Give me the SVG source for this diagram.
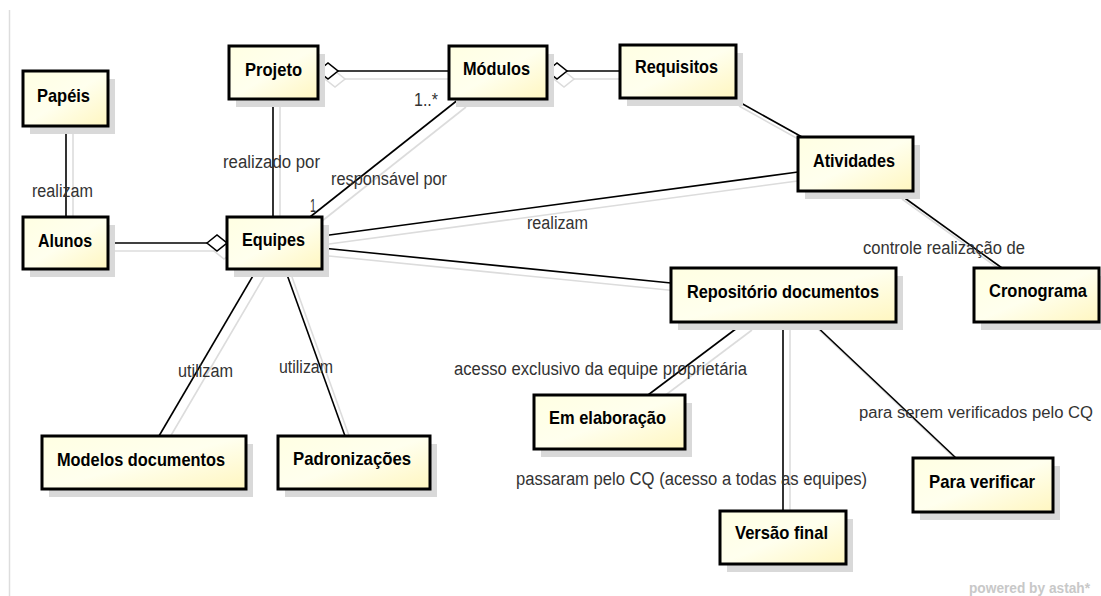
<svg xmlns="http://www.w3.org/2000/svg" width="1101" height="596" viewBox="0 0 1101 596">
  <defs>
    <linearGradient id="classFill" x1="0" y1="0" x2="1" y2="1">
      <stop offset="0" stop-color="#FFFFE2"/>
      <stop offset="0.5" stop-color="#FFFFEE"/>
      <stop offset="1" stop-color="#FFF6C0"/>
    </linearGradient>
    <style>
      .box { fill: url(#classFill); stroke: #000; stroke-width: 3; }
      .shadow { fill: #D9D9D9; }
      .name { font-family: "Liberation Sans", Arial, sans-serif; font-weight: bold; font-size: 19px; fill: #000; }
      .line { fill: none; stroke: #000; stroke-width: 1.6; }
      .lineShadow { fill: none; stroke: #DCDCDC; stroke-width: 1.6; }
      .dia { fill: #fff; stroke: #000; stroke-width: 1.6; }
      .diaShadow { fill: none; stroke: #DCDCDC; stroke-width: 1.6; }
      .lbl { font-family: "Liberation Sans", Arial, sans-serif; font-size: 18px; fill: #333; }
      .lbl.small { font-size: 16px; }
      .brand { font-family: "Liberation Sans", Arial, sans-serif; font-weight: bold; font-size: 14px; fill: #C8C8C8; }
    </style>
  </defs>

  <rect x="0" y="0" width="1101" height="596" fill="#fff"/>
  <line x1="9.5" y1="10" x2="9.5" y2="596" stroke="#DDDDDD" stroke-width="1.5"/>

  <!-- connector shadows -->
  <g id="connector-shadows" transform="translate(7,8)">
    <path class="lineShadow" d="M338,71 H449"/>
    <path class="lineShadow" d="M567,71 H620"/>
    <path class="lineShadow" d="M66,126 V217"/>
    <path class="lineShadow" d="M273,99 V217"/>
    <path class="lineShadow" d="M108,243 H207"/>
    <path class="lineShadow" d="M310,217 L459,99"/>
    <path class="lineShadow" d="M322,236 L798,172"/>
    <path class="lineShadow" d="M322,248 L671,283"/>
    <path class="lineShadow" d="M732,98 L802,137"/>
    <path class="lineShadow" d="M895,191 L1002,268"/>
    <path class="lineShadow" d="M257,269 L159,436"/>
    <path class="lineShadow" d="M285,269 L345,436"/>
    <path class="lineShadow" d="M745,322 L648,395"/>
    <path class="lineShadow" d="M783,322 V511"/>
    <path class="lineShadow" d="M812,322 L956,458"/>
    <polygon class="diaShadow" points="318,71 328,63 338,71 328,79"/>
    <polygon class="diaShadow" points="547,71 557,63 567,71 557,79"/>
    <polygon class="diaShadow" points="207,243 217,235 227,243 217,251"/>
  </g>

  <!-- connectors -->
  <g id="connectors">
    <path class="line" d="M338,71 H449"/>
    <polygon class="dia" points="318,71 328,63 338,71 328,79"/>
    <path class="line" d="M567,71 H620"/>
    <polygon class="dia" points="547,71 557,63 567,71 557,79"/>
    <path class="line" d="M66,126 V217"/>
    <path class="line" d="M273,99 V217"/>
    <path class="line" d="M108,243 H207"/>
    <polygon class="dia" points="207,243 217,235 227,243 217,251"/>
    <path class="line" d="M310,217 L459,99"/>
    <path class="line" d="M322,236 L798,172"/>
    <path class="line" d="M322,248 L671,283"/>
    <path class="line" d="M732,98 L802,137"/>
    <path class="line" d="M895,191 L1002,268"/>
    <path class="line" d="M257,269 L159,436"/>
    <path class="line" d="M285,269 L345,436"/>
    <path class="line" d="M745,322 L648,395"/>
    <path class="line" d="M783,322 V511"/>
    <path class="line" d="M812,322 L956,458"/>

    <text class="lbl" x="32" y="197" textLength="61" lengthAdjust="spacingAndGlyphs">realizam</text>
    <text class="lbl" x="223" y="168" textLength="97" lengthAdjust="spacingAndGlyphs">realizado por</text>
    <text class="lbl" x="310" y="212" textLength="6" lengthAdjust="spacingAndGlyphs">1</text>
    <text class="lbl" x="331" y="185" textLength="116" lengthAdjust="spacingAndGlyphs">responsável por</text>
    <text class="lbl" x="414" y="106" textLength="24" lengthAdjust="spacingAndGlyphs">1..*</text>
    <text class="lbl" x="527" y="229" textLength="61" lengthAdjust="spacingAndGlyphs">realizam</text>
    <text class="lbl" x="863" y="254" textLength="162" lengthAdjust="spacingAndGlyphs">controle realização de</text>
    <text class="lbl" x="178" y="377" textLength="55" lengthAdjust="spacingAndGlyphs">utilizam</text>
    <text class="lbl" x="279" y="373" textLength="54" lengthAdjust="spacingAndGlyphs">utilizam</text>
    <text class="lbl" x="454" y="375" textLength="293" lengthAdjust="spacingAndGlyphs">acesso exclusivo da equipe proprietária</text>
    <text class="lbl small" x="859" y="418" textLength="234" lengthAdjust="spacingAndGlyphs">para serem verificados pelo CQ</text>
    <text class="lbl" x="516" y="485" textLength="351" lengthAdjust="spacingAndGlyphs">passaram pelo CQ (acesso a todas as equipes)</text>
  </g>

  <!-- classes -->
  <g id="papeis">
    <rect class="shadow" x="30" y="79" width="85" height="55"/>
    <rect class="box" x="23" y="71" width="85" height="55"/>
    <text class="name" x="37" y="102" textLength="53" lengthAdjust="spacingAndGlyphs">Papéis</text>
  </g>
  <g id="projeto">
    <rect class="shadow" x="236" y="54" width="89" height="53"/>
    <rect class="box" x="229" y="46" width="89" height="53"/>
    <text class="name" x="245" y="76" textLength="57" lengthAdjust="spacingAndGlyphs">Projeto</text>
  </g>
  <g id="modulos">
    <rect class="shadow" x="456" y="54" width="98" height="53"/>
    <rect class="box" x="449" y="46" width="98" height="53"/>
    <text class="name" x="463" y="75" textLength="67" lengthAdjust="spacingAndGlyphs">Módulos</text>
  </g>
  <g id="requisitos">
    <rect class="shadow" x="627" y="53" width="116" height="53"/>
    <rect class="box" x="620" y="45" width="116" height="53"/>
    <text class="name" x="635" y="73" textLength="83" lengthAdjust="spacingAndGlyphs">Requisitos</text>
  </g>
  <g id="alunos">
    <rect class="shadow" x="30" y="225" width="85" height="52"/>
    <rect class="box" x="23" y="217" width="85" height="52"/>
    <text class="name" x="38" y="247" textLength="54" lengthAdjust="spacingAndGlyphs">Alunos</text>
  </g>
  <g id="equipes">
    <rect class="shadow" x="234" y="225" width="95" height="52"/>
    <rect class="box" x="227" y="217" width="95" height="52"/>
    <text class="name" x="242" y="246" textLength="63" lengthAdjust="spacingAndGlyphs">Equipes</text>
  </g>
  <g id="atividades">
    <rect class="shadow" x="805" y="145" width="115" height="54"/>
    <rect class="box" x="798" y="137" width="115" height="54"/>
    <text class="name" x="813" y="167" textLength="82" lengthAdjust="spacingAndGlyphs">Atividades</text>
  </g>
  <g id="repositorio">
    <rect class="shadow" x="678" y="276" width="225" height="54"/>
    <rect class="box" x="671" y="268" width="225" height="54"/>
    <text class="name" x="687" y="298" textLength="192" lengthAdjust="spacingAndGlyphs">Repositório documentos</text>
  </g>
  <g id="cronograma">
    <rect class="shadow" x="981" y="276" width="125" height="54"/>
    <rect class="box" x="974" y="268" width="125" height="54"/>
    <text class="name" x="989" y="297" textLength="98" lengthAdjust="spacingAndGlyphs">Cronograma</text>
  </g>
  <g id="modelos">
    <rect class="shadow" x="49" y="444" width="204" height="53"/>
    <rect class="box" x="42" y="436" width="204" height="53"/>
    <text class="name" x="57" y="466" textLength="168" lengthAdjust="spacingAndGlyphs">Modelos documentos</text>
  </g>
  <g id="padronizacoes">
    <rect class="shadow" x="285" y="444" width="152" height="53"/>
    <rect class="box" x="278" y="436" width="152" height="53"/>
    <text class="name" x="293" y="465" textLength="118" lengthAdjust="spacingAndGlyphs">Padronizações</text>
  </g>
  <g id="em-elaboracao">
    <rect class="shadow" x="541" y="403" width="151" height="54"/>
    <rect class="box" x="534" y="395" width="151" height="54"/>
    <text class="name" x="549" y="424" textLength="117" lengthAdjust="spacingAndGlyphs">Em elaboração</text>
  </g>
  <g id="versao-final">
    <rect class="shadow" x="727" y="519" width="126" height="53"/>
    <rect class="box" x="720" y="511" width="126" height="53"/>
    <text class="name" x="735" y="539" textLength="93" lengthAdjust="spacingAndGlyphs">Versão final</text>
  </g>
  <g id="para-verificar">
    <rect class="shadow" x="920" y="466" width="140" height="54"/>
    <rect class="box" x="913" y="458" width="140" height="54"/>
    <text class="name" x="929" y="488" textLength="106" lengthAdjust="spacingAndGlyphs">Para verificar</text>
  </g>

  <text class="brand" x="969" y="593" textLength="121" lengthAdjust="spacingAndGlyphs">powered by astah*</text>
</svg>
